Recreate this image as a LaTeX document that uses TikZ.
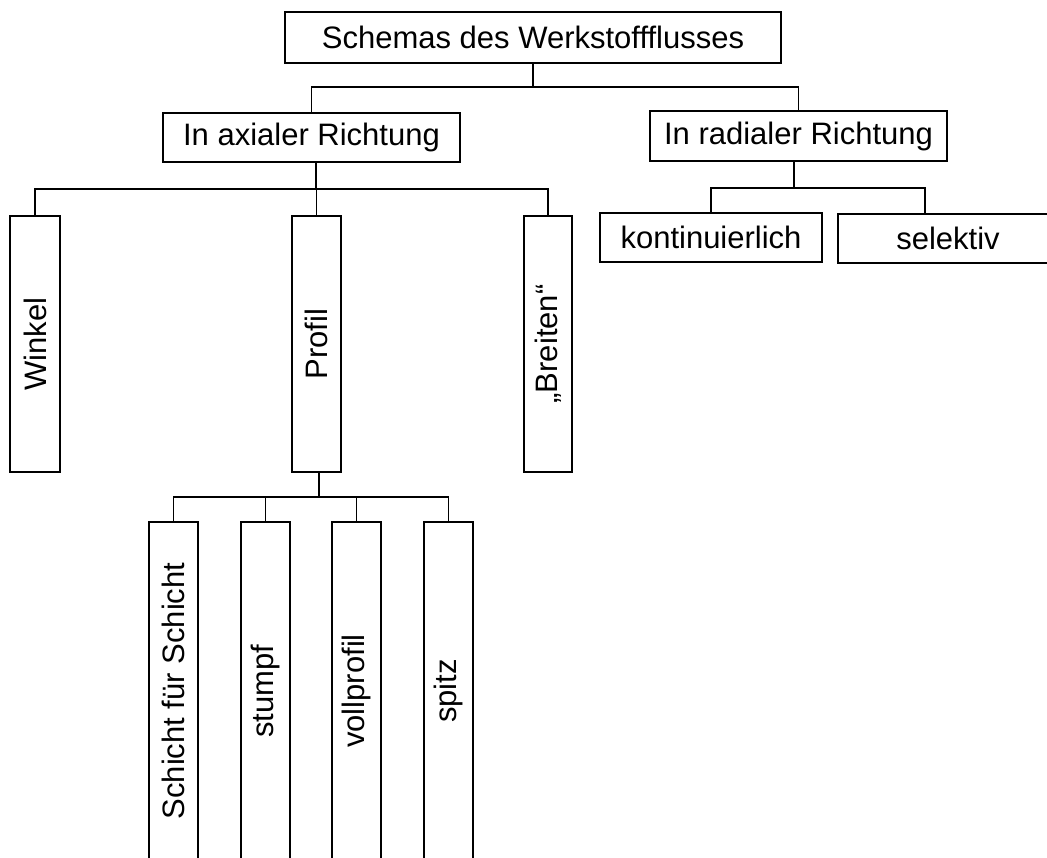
\documentclass[tikz,border=0pt]{standalone}
\usepackage{fontspec}
\setmainfont{Liberation Sans}
\usepackage{graphicx}
\tikzset{box/.style={draw=black, line width=1.2pt, inner sep=0pt, font=\fontsize{31}{36}\selectfont},
% connectors between the boxes
link/.style={draw=black, line width=1.2pt}}

\begin{document}
\begin{tikzpicture}[x=1pt,y=-1pt]

    \useasboundingbox (0,0) rectangle (1047,857);
    \clip (0,0) rectangle (1047,857);

    \node[box, minimum width=496pt, minimum height=51pt] (root) at (533,37.5) {Schemas des Werkstoffflusses};

    \node[box, minimum width=297pt, minimum height=49pt] (axial)  at (311.5,137.5) {In axialer Richtung};
    \node[box, minimum width=297pt, minimum height=50pt] (radial) at (798.5,136) {In radialer Richtung};

    \node[box, minimum width=50pt, minimum height=256pt] (winkel)  at (35,344)    {\rotatebox{90}{Winkel}};
    \node[box, minimum width=49pt, minimum height=256pt] (profil)  at (316.5,344) {\rotatebox{90}{Profil}};
    \node[box, minimum width=48pt, minimum height=256pt] (breiten) at (548,344)   {\rotatebox{90}{„Breiten“}};

    \node[box, minimum width=222pt, minimum height=49pt] (kont)     at (711,237.5) {kontinuierlich};
    \node[box, minimum width=220pt, minimum height=49pt] (selektiv) at (948,238.5) {selektiv};

    \foreach \x/\n/\t in {173.5/schicht/Schicht für Schicht, 265.5/stumpf/stumpf, 356.5/vollprofil/vollprofil, 448.5/spitz/spitz}
    \node[box, minimum width=49pt, minimum height=338pt] (\n) at (\x,691) {\rotatebox{90}{\t}};

    \coordinate (j0) at (533,87);
    \coordinate (j1) at (316,189);
    \coordinate (j2) at (319,497);
    \coordinate (j3) at (794,188);

    \draw[link] (root.south) -- (j0);
    \draw[link] (axial.north) |- (j0) -| (radial.north);

    \draw[link] (j1 |- axial.south) -- (j1);
    \draw[link] (winkel.north) |- (j1) -| (breiten.north);
    \draw[link] (profil.north) -- (profil.north |- j1);

    \draw[link] (j2 |- profil.south) -- (j2);
    \draw[link] (schicht.north) |- (j2) -| (spitz.north);
    \foreach \n in {stumpf,vollprofil}
    \draw[link] (\n.north) -- (\n.north |- j2);

    \draw[link] (j3 |- radial.south) -- (j3);
    \draw[link] (kont.north) |- (j3) -| ([xshift=-23pt]selektiv.north);

  \end{tikzpicture}
\end{document}
